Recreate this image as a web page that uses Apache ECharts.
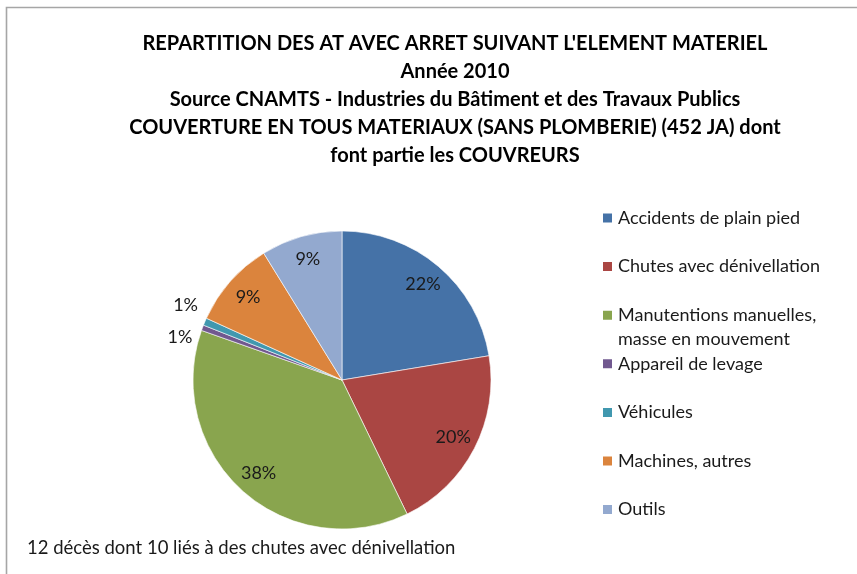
<!DOCTYPE html>
<html>
<head>
<meta charset="utf-8">
<script src="https://cdn.jsdelivr.net/npm/echarts@6/dist/echarts.min.js"></script>
<style>
  html, body { margin: 0; padding: 0; background: #ffffff; }
  #chart { width: 857px; height: 574px; }
</style>
</head>
<body>
<div id="chart"></div>
<script>
// Accidents with work stoppage by material element, share of total (%)
const categories = [
  'Accidents de plain pied',
  'Chutes avec dénivellation',
  'Manutentions manuelles,\nmasse en mouvement',
  'Appareil de levage',
  'Véhicules',
  'Machines, autres',
  'Outils'
];
const shares = [22.4, 20.4, 37.6, 0.6, 0.8, 9.4, 8.8];
const sliceColors = ['#4572A7', '#AA4643', '#89A54E', '#71588F', '#4198AF', '#DB843D', '#93A9CF'];

const titleLines = [
  "REPARTITION DES AT AVEC ARRET SUIVANT L'ELEMENT MATERIEL",
  'Année 2010',
  'Source CNAMTS - Industries du Bâtiment et des Travaux Publics',
  'COUVERTURE EN TOUS MATERIAUX (SANS PLOMBERIE) (452 JA) dont',
  'font partie les COUVREURS'
];
const footnote = '12 décès dont 10 liés à des chutes avec dénivellation';

const FONT = 'Lato, "Open Sans", sans-serif';
const chart = echarts.init(document.getElementById('chart'), null, { renderer: 'canvas' });

const center = [342, 380];
const R = 149;

// Legend: one block per entry so a multi-line entry keeps its key on the first line.
// Blank lines are prepended to such an entry so its first text line sits at the key's height.
const legendLineH = 24;
const legendFirst = 217, legendStep = 48.6;
const legends = categories.map((name, i) => {
  const lines = name.split('\n').length;
  const c = legendFirst + i * legendStep;
  const boxH = legendLineH * (2 * lines - 1);
  return {
    orient: 'vertical',
    left: 601,
    top: c - boxH / 2 + 1,
    padding: 0,
    itemWidth: 11,
    itemHeight: 11,
    icon: 'rect',
    selectedMode: false,
    data: [name],
    formatter: n => '\n'.repeat(lines - 1) + n,
    textStyle: {
      fontFamily: FONT,
      fontSize: 18,
      color: '#1a1a1a',
      lineHeight: legendLineH
    }
  };
});

const sliceData = categories.map((name, i) => ({ name, value: shares[i] }));

// Labels sit on a transparent ring so they land near the outer part of each slice;
// the two thinnest slices get their labels outside the pie.
const labelData = categories.map((name, i) => {
  const item = { name, value: shares[i] };
  if (shares[i] < 2) {
    item.label = { position: 'outside', lineHeight: 30, offset: [0, -16] };
    item.labelLine = { show: false, length: 2, length2: 0 };
  }
  return item;
});

chart.setOption({
  animation: false,
  color: sliceColors,
  title: [
    {
      text: titleLines.join('\n'),
      left: 455,
      textAlign: 'center',
      top: 30,
      padding: 0,
      textStyle: {
        fontFamily: FONT,
        fontSize: 20,
        fontWeight: 'bold',
        color: '#000000',
        lineHeight: 28
      }
    },
    {
      text: footnote,
      left: 27,
      top: 536,
      padding: 0,
      textStyle: {
        fontFamily: FONT,
        fontSize: 18.5,
        fontWeight: 'normal',
        color: '#1a1a1a',
        lineHeight: 24
      }
    }
  ],
  legend: legends,
  graphic: [
    {
      type: 'rect',
      silent: true,
      shape: { x: 6.5, y: 7.5, width: 900, height: 600 },
      style: { fill: 'none', stroke: '#a6a6a6', lineWidth: 1.6 }
    }
  ],
  series: [
    {
      type: 'pie',
      center: center,
      radius: [0, R],
      startAngle: 90,
      clockwise: true,
      silent: true,
      label: { show: false },
      labelLine: { show: false },
      itemStyle: { borderColor: '#ffffff', borderWidth: 0.6 },
      data: sliceData
    },
    {
      type: 'pie',
      center: center,
      radius: [R * 0.64, R],
      startAngle: 90,
      clockwise: true,
      silent: true,
      avoidLabelOverlap: true,
      itemStyle: { color: 'rgba(0,0,0,0)' },
      label: {
        show: true,
        position: 'inside',
        fontFamily: FONT,
        fontSize: 18,
        color: '#1a1a1a',
        formatter: p => Math.round(p.percent) + '%'
      },
      labelLine: { show: false },
      data: labelData
    }
  ]
});
</script>
</body>
</html>
